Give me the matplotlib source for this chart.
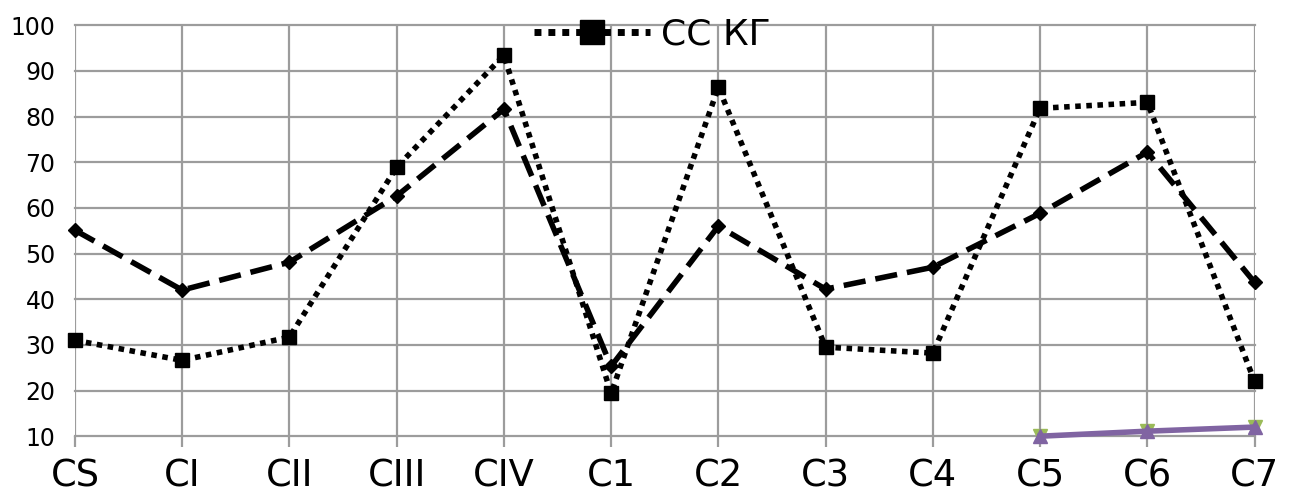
import matplotlib
matplotlib.use('Agg')
import matplotlib.pyplot as plt
import numpy as np

plt.rcParams['font.family'] = ['DejaVu Sans']

categories = ['CS', 'CI', 'CII', 'CIII', 'CIV', 'C1', 'C2', 'C3', 'C4', 'C5', 'C6', 'C7']
ss_kg = [31.0, 26.6, 31.7, 68.9, 93.4, 19.4, 86.4, 29.5, 28.2, 81.8, 83.1, 22.0]
dashed_series = [55.1, 42.0, 48.1, 62.6, 81.6, 25.3, 56.0, 42.2, 47.0, 58.8, 72.2, 43.7]
tail_cats = ['C5', 'C6', 'C7']
green_series = [10.0, 11.1, 12.0]
purple_series = [10.0, 11.1, 12.0]

x = np.arange(len(categories))
xt = [categories.index(c) for c in tail_cats]

fig = plt.figure(figsize=(12.92, 4.94), dpi=100)
ax = fig.add_axes([0.058, 0.117, 0.913, 0.832])

grid_col = '#9c9c9c'
for v in range(10, 101, 10):
    ax.axhline(v, color=grid_col, lw=1.6, zorder=1, clip_on=False)
for xi in x:
    ax.axvline(xi, color=grid_col, lw=1.6, zorder=1)

ax.plot(x, dashed_series, color='black', lw=4.0, dashes=(4.0, 1.8),
        marker='D', ms=7, zorder=3, clip_on=False, label='_nolegend_')
ax.plot(x, ss_kg, color='black', lw=4.0, linestyle=(0, (1.0, 1.0)),
        marker='s', ms=10.5, zorder=4, clip_on=False, label='СС КГ')
ax.plot(xt, green_series, color='#9bbb59', lw=0, marker='v', ms=10,
        zorder=5, clip_on=False, label='_nolegend_')
ax.plot(xt, purple_series, color='#8064a2', lw=4.0, marker='^', ms=10,
        zorder=6, clip_on=False, label='_nolegend_')

ax.set_xlim(0, len(categories) - 1)
ax.set_ylim(10, 100)
ax.set_yticks(range(10, 101, 10))
ax.set_xticks(x)
ax.set_xticklabels(categories)
for s in ax.spines.values():
    s.set_visible(False)
ax.tick_params(axis='x', length=8, width=1.6, color=grid_col, labelsize=26.5, pad=7)
ax.tick_params(axis='y', length=0, labelsize=17, pad=14)

leg = fig.legend(loc='center', bbox_to_anchor=(0.505, 0.93), frameon=False,
                 fontsize=26, handlelength=3.2, handletextpad=0.3,
                 markerscale=1.6, borderpad=0, borderaxespad=0)
for ln in leg.get_lines():
    ln.set_linewidth(5.0)

fig.savefig('out.png', dpi=100)
